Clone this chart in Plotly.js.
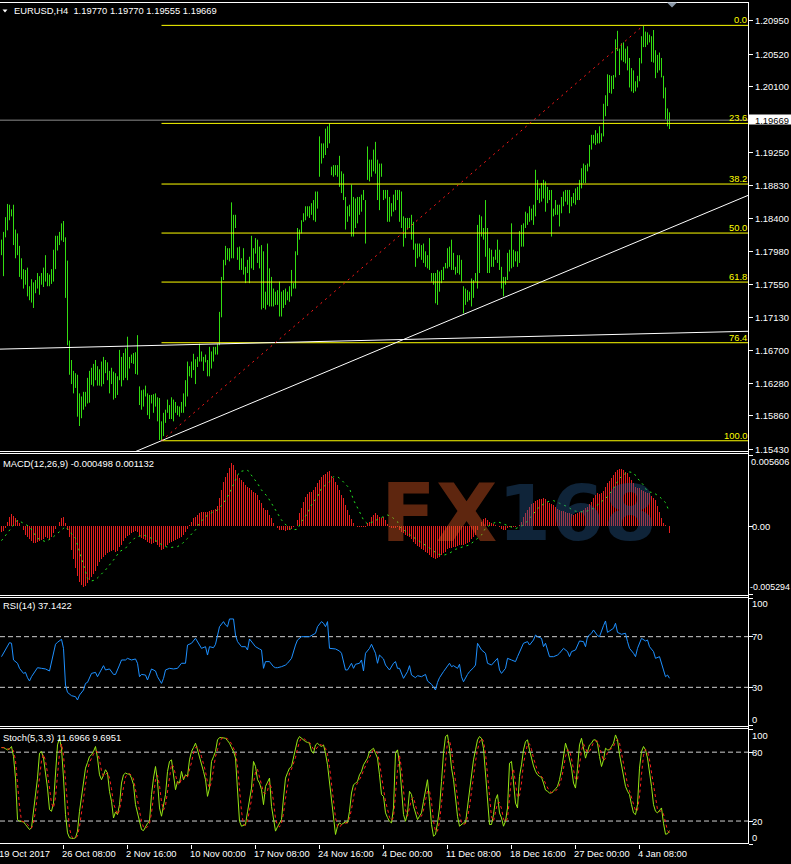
<!DOCTYPE html>
<html><head><meta charset="utf-8">
<script src="https://cdn.plot.ly/plotly-3.0.1.min.js"></script>
<style>html,body{margin:0;padding:0;background:#000;overflow:hidden}#chart{width:791px;height:864px}</style>
</head><body><div id="chart"></div>
<script>
// ---------------- DATA (EURUSD H4) ----------------
const highs = [
1.1813,1.1823,1.1842,1.1859,1.1858,1.1852,1.1858,1.1826,1.1821,1.1805,
1.1789,1.1775,1.1774,1.1777,1.1753,1.1762,1.1758,1.1761,1.1770,1.1766,
1.1770,1.1777,1.1793,1.1770,1.1768,1.1775,1.1800,1.1818,1.1818,1.1823,
1.1834,1.1837,1.1816,1.1786,1.1683,1.1658,1.1644,1.1641,1.1639,1.1615,
1.1611,1.1617,1.1617,1.1635,1.1644,1.1648,1.1653,1.1658,1.1650,1.1646,
1.1656,1.1662,1.1658,1.1655,1.1644,1.1648,1.1643,1.1641,1.1637,1.1671,
1.1662,1.1667,1.1673,1.1688,1.1662,1.1665,1.1667,1.1668,1.1690,1.1624,
1.1619,1.1620,1.1625,1.1615,1.1613,1.1613,1.1614,1.1615,1.1610,1.1609,
1.1579,1.1590,1.1594,1.1607,1.1600,1.1610,1.1607,1.1604,1.1599,1.1598,
1.1604,1.1615,1.1632,1.1656,1.1650,1.1656,1.1666,1.1659,1.1662,1.1679,
1.1669,1.1662,1.1665,1.1658,1.1675,1.1669,1.1675,1.1675,1.1679,1.1720,
1.1765,1.1787,1.1805,1.1802,1.1802,1.1861,1.1845,1.1845,1.1803,1.1804,
1.1789,1.1802,1.1778,1.1787,1.1791,1.1818,1.1802,1.1815,1.1813,1.1804,
1.1806,1.1798,1.1746,1.1808,1.1776,1.1765,1.1750,1.1746,1.1748,1.1759,
1.1746,1.1748,1.1750,1.1746,1.1753,1.1774,1.1757,1.1798,1.1828,1.1826,
1.1838,1.1847,1.1856,1.1856,1.1856,1.1860,1.1864,1.1875,1.1875,1.1946,
1.1937,1.1937,1.1956,1.1959,1.1963,1.1907,1.1909,1.1909,1.1909,1.1921,
1.1901,1.1898,1.1868,1.1856,1.1858,1.1884,1.1868,1.1866,1.1868,1.1868,
1.1871,1.1877,1.1864,1.1933,1.1916,1.1916,1.1929,1.1939,1.1916,1.1911,
1.1911,1.1877,1.1877,1.1877,1.1868,1.1860,1.1871,1.1877,1.1877,1.1877,
1.1875,1.1843,1.1841,1.1841,1.1841,1.1845,1.1836,1.1808,1.1808,1.1808,
1.1806,1.1808,1.1798,1.1793,1.1815,1.1770,1.1770,1.1770,1.1774,1.1772,
1.1774,1.1778,1.1783,1.1802,1.1804,1.1813,1.1796,1.1778,1.1793,1.1793,
1.1787,1.1753,1.1750,1.1748,1.1746,1.1763,1.1761,1.1770,1.1832,1.1845,
1.1843,1.1828,1.1864,1.1828,1.1802,1.1800,1.1791,1.1800,1.1813,1.1800,
1.1778,1.1765,1.1765,1.1796,1.1800,1.1834,1.1800,1.1798,1.1798,1.1824,
1.1832,1.1834,1.1849,1.1847,1.1856,1.1853,1.1858,1.1903,1.1890,1.1879,
1.1886,1.1890,1.1888,1.1881,1.1877,1.1877,1.1853,1.1864,1.1858,1.1858,
1.1868,1.1875,1.1877,1.1877,1.1877,1.1868,1.1873,1.1879,1.1881,1.1890,
1.1905,1.1911,1.1909,1.1911,1.1935,1.1948,1.1948,1.1954,1.1950,1.1959,
1.1950,1.1988,1.1999,1.2026,1.2025,1.2024,1.2025,1.2071,1.2082,1.2059,
1.2066,1.2067,1.2059,1.2062,1.2047,1.2034,1.2031,1.2017,1.2024,1.2047,
1.2075,1.2089,1.2081,1.2080,1.2077,1.2075,1.2083,1.2057,1.2051,1.2054,
1.2047,1.2024,1.2009,1.1982,1.1977];
const lows = [
1.1793,1.1766,1.1816,1.1825,1.1838,1.1843,1.1806,1.1789,1.1793,1.1765,
1.1762,1.1750,1.1755,1.1740,1.1735,1.1732,1.1725,1.1744,1.1750,1.1742,
1.1755,1.1752,1.1759,1.1753,1.1753,1.1756,1.1759,1.1775,1.1799,1.1806,
1.1812,1.1810,1.1738,1.1677,1.1639,1.1627,1.1615,1.1622,1.1585,1.1573,
1.1583,1.1594,1.1598,1.1602,1.1603,1.1626,1.1624,1.1632,1.1625,1.1625,
1.1624,1.1627,1.1641,1.1632,1.1615,1.1627,1.1607,1.1609,1.1613,1.1632,
1.1624,1.1632,1.1635,1.1632,1.1647,1.1654,1.1653,1.1640,1.1639,1.1600,
1.1594,1.1598,1.1611,1.1587,1.1582,1.1602,1.1590,1.1598,1.1579,1.1555,
1.1554,1.1560,1.1577,1.1590,1.1582,1.1582,1.1579,1.1590,1.1587,1.1585,
1.1590,1.1590,1.1598,1.1611,1.1637,1.1635,1.1645,1.1627,1.1649,1.1656,
1.1656,1.1644,1.1655,1.1637,1.1637,1.1647,1.1656,1.1665,1.1665,1.1677,
1.1713,1.1761,1.1780,1.1787,1.1785,1.1789,1.1789,1.1828,1.1787,1.1774,
1.1774,1.1768,1.1757,1.1770,1.1757,1.1776,1.1774,1.1795,1.1783,1.1776,
1.1723,1.1725,1.1723,1.1729,1.1727,1.1727,1.1727,1.1729,1.1729,1.1714,
1.1714,1.1725,1.1729,1.1735,1.1733,1.1740,1.1750,1.1750,1.1793,1.1813,
1.1821,1.1836,1.1838,1.1843,1.1841,1.1845,1.1838,1.1836,1.1853,1.1894,
1.1911,1.1918,1.1922,1.1931,1.1937,1.1896,1.1894,1.1896,1.1894,1.1881,
1.1873,1.1864,1.1826,1.1836,1.1843,1.1817,1.1817,1.1828,1.1834,1.1845,
1.1849,1.1864,1.1808,1.1890,1.1888,1.1894,1.1901,1.1898,1.1864,1.1851,
1.1894,1.1864,1.1866,1.1836,1.1836,1.1843,1.1849,1.1851,1.1864,1.1836,
1.1828,1.1804,1.1815,1.1826,1.1828,1.1813,1.1800,1.1778,1.1789,1.1791,
1.1787,1.1783,1.1778,1.1776,1.1774,1.1759,1.1755,1.1731,1.1729,1.1746,
1.1757,1.1761,1.1776,1.1776,1.1778,1.1774,1.1774,1.1768,1.1770,1.1768,
1.1759,1.1718,1.1729,1.1733,1.1735,1.1727,1.1738,1.1759,1.1750,1.1770,
1.1817,1.1813,1.1791,1.1770,1.1770,1.1778,1.1778,1.1787,1.1783,1.1774,
1.1750,1.1740,1.1755,1.1761,1.1772,1.1776,1.1778,1.1785,1.1778,1.1783,
1.1804,1.1804,1.1828,1.1832,1.1836,1.1838,1.1832,1.1843,1.1864,1.1860,
1.1862,1.1866,1.1849,1.1860,1.1864,1.1817,1.1843,1.1845,1.1845,1.1830,
1.1847,1.1856,1.1862,1.1858,1.1847,1.1856,1.1860,1.1858,1.1864,1.1864,
1.1879,1.1886,1.1886,1.1901,1.1907,1.1929,1.1937,1.1935,1.1937,1.1937,
1.1939,1.1946,1.1972,1.1985,1.2002,1.2001,1.2007,1.2022,1.2056,1.2025,
1.2044,1.2042,1.2040,1.2031,1.2009,1.2004,1.2002,1.2004,1.2009,1.2017,
1.2040,1.2061,1.2061,1.2064,1.2067,1.2042,1.2041,1.2021,1.2028,1.2031,
1.2022,1.1995,1.1968,1.1959,1.19555];
const lastPrice = 1.19669;
const priceTicks = [1.2095,1.2052,1.2010,1.1925,1.1883,1.1840,1.1798,1.1755,1.1713,1.1670,1.1628,1.1586,1.1543];
const priceTickText = ['1.20950','1.20520','1.20100','1.19250','1.18830','1.18400','1.17980','1.17550','1.17130','1.16700','1.16280','1.15860','1.15430'];
const fibLevels = [0, 23.6, 38.2, 50, 61.8, 76.4, 100];
const fibLabels = ['0.0','23.6','38.2','50.0','61.8','76.4','100.0'];
const fibHigh = 1.2089, fibLow = 1.1554, fibLowBar = 80, fibHighBar = 321;
const trendFlatBars = [-0.75, 373.25], trendFlatPrices = [1.1672, 1.1695];
const trendUpBars = [66, 373.25], trendUpPrices = [1.1539, 1.1870];

const macdHist = [
-0.00041,-0.00033,-0.00014,0.00038,0.00077,0.00098,0.00082,0.00064,0.00051,0.00030,
0.00004,-0.00027,-0.00067,-0.00085,-0.00101,-0.00111,-0.00127,-0.00132,-0.00122,-0.00111,
-0.00106,-0.00101,-0.00085,-0.00093,-0.00101,-0.00085,-0.00054,-0.00022,0.00004,0.00038,
0.00064,0.00072,0.00025,-0.00027,-0.00080,-0.00184,-0.00257,-0.00328,-0.00388,-0.00432,
-0.00459,-0.00472,-0.00466,-0.00446,-0.00419,-0.00393,-0.00372,-0.00346,-0.00310,-0.00276,
-0.00257,-0.00236,-0.00223,-0.00210,-0.00197,-0.00189,-0.00184,-0.00197,-0.00189,-0.00163,
-0.00145,-0.00111,-0.00093,-0.00074,-0.00067,-0.00054,-0.00041,-0.00033,-0.00041,-0.00074,
-0.00093,-0.00095,-0.00106,-0.00119,-0.00132,-0.00140,-0.00132,-0.00122,-0.00142,-0.00163,
-0.00184,-0.00174,-0.00153,-0.00145,-0.00132,-0.00122,-0.00111,-0.00106,-0.00101,-0.00093,
-0.00080,-0.00069,-0.00043,-0.00017,0.00009,0.00038,0.00064,0.00077,0.00090,0.00103,
0.00114,0.00116,0.00114,0.00114,0.00122,0.00129,0.00129,0.00135,0.00161,0.00221,
0.00286,0.00349,0.00391,0.00417,0.00456,0.00495,0.00482,0.00443,0.00404,0.00378,
0.00365,0.00349,0.00325,0.00312,0.00299,0.00286,0.00273,0.00260,0.00244,0.00208,
0.00182,0.00142,0.00129,0.00129,0.00090,0.00064,0.00025,0.00004,-0.00014,-0.00027,
-0.00027,-0.00027,-0.00033,-0.00027,-0.00027,-0.00022,-0.00001,0.00004,0.00051,0.00103,
0.00142,0.00195,0.00229,0.00255,0.00270,0.00273,0.00286,0.00312,0.00338,0.00365,
0.00391,0.00404,0.00412,0.00430,0.00438,0.00396,0.00378,0.00351,0.00325,0.00286,
0.00247,0.00221,0.00169,0.00129,0.00090,0.00056,0.00025,0.00004,-0.00001,-0.00001,
-0.00007,-0.00007,-0.00001,0.00025,0.00038,0.00077,0.00090,0.00103,0.00090,0.00077,
0.00064,0.00077,0.00051,0.00020,-0.00001,-0.00014,-0.00014,-0.00014,-0.00007,-0.00027,
-0.00041,-0.00054,-0.00067,-0.00074,-0.00085,-0.00101,-0.00119,-0.00137,-0.00153,-0.00163,
-0.00174,-0.00184,-0.00197,-0.00210,-0.00223,-0.00236,-0.00247,-0.00252,-0.00250,-0.00236,
-0.00221,-0.00210,-0.00197,-0.00179,-0.00171,-0.00166,-0.00163,-0.00158,-0.00153,-0.00148,
-0.00142,-0.00148,-0.00137,-0.00127,-0.00119,-0.00101,-0.00085,-0.00067,-0.00027,0.00004,
0.00038,0.00056,0.00067,0.00051,0.00038,0.00025,0.00020,0.00012,0.00004,-0.00001,
-0.00017,-0.00027,-0.00027,-0.00014,-0.00007,-0.00001,-0.00004,-0.00001,0.00004,0.00012,
0.00038,0.00077,0.00103,0.00129,0.00155,0.00176,0.00187,0.00203,0.00208,0.00213,
0.00216,0.00221,0.00213,0.00195,0.00182,0.00176,0.00166,0.00150,0.00135,0.00129,
0.00124,0.00119,0.00116,0.00108,0.00103,0.00098,0.00090,0.00095,0.00103,0.00116,
0.00122,0.00129,0.00142,0.00155,0.00174,0.00195,0.00221,0.00244,0.00260,0.00255,
0.00265,0.00281,0.00307,0.00338,0.00354,0.00378,0.00404,0.00427,0.00443,0.00448,
0.00448,0.00443,0.00430,0.00417,0.00391,0.00365,0.00338,0.00312,0.00299,0.00299,
0.00286,0.00276,0.00273,0.00260,0.00260,0.00239,0.00221,0.00208,0.00161,0.00116,
0.00064,0.00025,0.00012,0.00004,-0.000498];
const macdSignalReadings = [
[0,-0.00111],[8,0.00051],[14,-0.00001],[18,-0.00093],[22,-0.00119],[25,-0.00093],[29,-0.00041],[32,-0.00001],
[37,-0.00093],[39,-0.00197],[42,-0.00341],[43,-0.00406],[45,-0.00427],[47,-0.00419],[49,-0.00388],[52,-0.00341],
[56,-0.00263],[59,-0.00197],[62,-0.00171],[64,-0.00132],[67,-0.00085],[71,-0.00067],[74,-0.00085],[78,-0.00119],
[81,-0.00153],[84,-0.00166],[88,-0.00158],[90,-0.00140],[93,-0.00093],[97,-0.00027],[99,0.00025],[102,0.00077],
[105,0.00108],[108,0.00129],[111,0.00182],[114,0.00260],[117,0.00365],[119,0.00430],[123,0.00443],[125,0.00404],
[128,0.00338],[130,0.00286],[133,0.00234],[135,0.00182],[138,0.00103],[140,0.00051],[143,-0.00001],[145,-0.00027],
[148,-0.00022],[150,0.00038],[153,0.00103],[155,0.00169],[158,0.00234],[160,0.00299],[164,0.00351],[166,0.00391],
[168,0.00391],[170,0.00365],[174,0.00299],[176,0.00208],[179,0.00116],[181,0.00051],[183,0.00020],[186,0.00038],
[189,0.00064],[193,0.00090],[195,0.00077],[198,0.00038],[199,-0.00001],[202,-0.00041],[205,-0.00074],[208,-0.00106],
[212,-0.00145],[215,-0.00179],[218,-0.00216],[221,-0.00226],[224,-0.00210],[227,-0.00179],[231,-0.00158],[234,-0.00145],
[237,-0.00106],[240,-0.00067],[242,-0.00014],[245,0.00020],[248,0.00038],[251,0.00020],[254,-0.00001],[257,-0.00017],
[260,0.00004],[262,0.00025],[264,0.00064],[267,0.00116],[269,0.00155],[273,0.00195],[276,0.00203],[279,0.00182],
[283,0.00155],[286,0.00124],[289,0.00114],[293,0.00122],[296,0.00142],[299,0.00182],[303,0.00234],[306,0.00299],
[309,0.00378],[313,0.00430],[316,0.00422],[318,0.00378],[321,0.00325],[323,0.00273],[326,0.00265],[329,0.00234],
[332,0.00187],[334,0.001132]];
const macdMax = 0.005606, macdMin = -0.005294;

const rsiReadings = [
[0,54.2],[1,56.9],[3,62.1],[4,65.3],[5,64.8],[6,51.6],[8,49.0],[9,45.0],[11,41.0],[12,41.8],
[13,37.6],[14,35.0],[15,38.4],[17,43.7],[18,45.5],[20,45.0],[22,44.5],[24,42.9],[25,50.3],[27,64.0],
[28,65.6],[30,67.9],[31,60.8],[32,31.8],[33,26.0],[35,23.4],[37,22.6],[38,20.0],[39,23.9],[41,27.9],
[42,33.1],[43,33.9],[45,41.0],[47,41.8],[48,38.4],[50,45.0],[51,47.1],[52,43.7],[54,44.5],[56,40.2],
[57,40.2],[59,47.6],[60,51.6],[62,51.6],[63,52.9],[65,51.6],[67,52.4],[68,49.0],[69,38.4],[70,40.2],
[72,39.7],[73,35.8],[75,44.5],[77,42.9],[78,38.4],[80,33.1],[81,37.1],[82,43.7],[84,45.0],[86,44.5],
[88,45.0],[90,49.0],[92,49.0],[93,63.4],[95,64.8],[97,68.7],[98,66.1],[99,62.9],[100,60.8],[102,62.1],
[103,55.5],[104,62.1],[106,61.3],[107,64.0],[108,70.0],[109,77.9],[111,81.9],[112,79.3],[113,77.9],[114,84.0],
[116,84.0],[117,71.3],[118,66.1],[120,62.1],[122,62.1],[123,59.5],[124,68.2],[126,64.0],[127,62.1],[129,60.3],
[130,59.5],[131,45.0],[132,50.3],[134,50.3],[136,46.3],[137,45.5],[138,45.5],[140,46.3],[142,47.6],[143,49.0],
[145,52.9],[147,63.4],[148,67.4],[150,70.0],[152,70.0],[154,70.0],[157,72.7],[158,77.9],[160,81.9],[161,80.6],
[162,77.9],[163,81.9],[164,60.8],[166,60.8],[167,60.3],[169,58.7],[170,56.9],[172,43.7],[173,43.7],[175,49.0],
[176,45.0],[177,48.2],[179,49.0],[180,51.6],[181,42.9],[182,56.9],[184,60.8],[185,64.0],[187,56.9],[188,49.0],
[189,55.5],[191,52.4],[192,47.6],[194,43.7],[196,49.0],[197,50.3],[198,45.0],[199,45.0],[201,37.1],[203,42.4],
[204,47.1],[205,39.7],[207,37.6],[208,39.2],[210,38.4],[212,40.2],[213,35.0],[215,32.4],[217,27.9],[218,33.9],
[219,37.6],[221,42.4],[223,46.3],[224,49.0],[225,46.3],[226,47.1],[228,45.0],[229,48.2],[230,38.4],[231,34.4],
[233,40.2],[234,42.4],[236,45.5],[237,47.6],[238,64.8],[240,59.5],[242,56.9],[243,49.0],[245,47.6],[247,51.6],
[248,52.9],[249,43.7],[250,41.0],[252,45.0],[253,52.9],[255,51.6],[257,50.3],[258,54.2],[260,62.1],[261,64.8],
[263,66.1],[264,63.4],[266,67.4],[267,71.3],[268,70.0],[270,68.7],[271,62.1],[272,64.8],[274,54.2],[276,54.2],
[278,55.5],[279,56.9],[281,60.8],[283,58.2],[284,54.2],[285,58.2],[287,59.5],[288,63.4],[289,66.6],[291,66.1],
[292,62.1],[293,70.0],[295,72.7],[296,75.3],[298,70.8],[299,70.0],[300,75.3],[301,78.7],[302,82.4],[303,73.4],
[304,74.5],[306,76.6],[307,80.6],[308,73.4],[310,71.9],[312,72.7],[313,66.1],[314,60.8],[316,56.9],[317,54.2],
[318,60.8],[320,68.7],[322,66.6],[323,67.4],[324,62.1],[326,58.2],[327,52.9],[329,54.2],[331,43.7],[332,38.4],
[333,39.7],[334,37.1422]];
const rsiLevels = [30, 70];

const stochMain = [
84,84,83,82,82.9,84.9,76.2,57.4,21.3,19.8, 19.5,19.3,17,15,12.6,14.1,28.5,43,57.4,79.1,
80.6,74.8,62,48.7,30,28.5,35.7,57.4,86.3,92.1, 83.4,57.4,25.6,9.7,5.4,5,4.8,5.4,11.2,28.5,
41,54.5,66.1,71,76.2,77.7,80.6,84.9,74.8,60.3, 56,60,64.7,61.8,45.9,37.2,22.7,27.9,25.6,34.3,
53.1,60.3,61.8,61,60.9,57.4,51.7,34.3,27,19.8, 12.6,11.7,15.5,18,19.8,43,57.4,67.5,54.5,31.4,
24.2,33,43,63.2,71.9,73.3,57.4,47.3,54.5,53.1, 63.2,56,60.3,58.9,73.3,80.6,84,87.8,82,76.2,
70.4,63.2,56,41.5,48.7,71.9,76,80.6,90.7,92.7, 92.7,92.7,92.1,90,87.8,84,80.6,74.8,50.2,19.8,
15.5,16,17,28,38.6,48.7,71.9,67.5,56,53.1, 47.3,34.3,50.2,54,57.4,32.8,22.7,11.2,15,18.4,
21.3,40.1,57.4,62,66.1,67.5,74.8,83.4,90.7,93.6, 92.1,90.7,89.2,88.5,87.8,80.6,79.1,86.3,87.8,86,
84.9,86.3,79.1,69,54,38.6,22,8.3,15.5,18.4, 17,18,19.3,18.4,28.5,44.4,51.6,53,54.5,60.3,
63.2,69,72,74.8,80.6,82,83.4,79,74.8,60.3, 43,41.5,27.1,23,19.8,18.4,31.4,79.1,82,70.4,
45,25.6,19.8,27.1,45.9,43,32.8,27.1,21.3,24.2, 27.1,37.2,45.9,56,37.2,17,6.8,8.3,18.4,31.4,
54.5,79.1,93.6,95,83.4,66.1,56,40.1,24.2,15.5, 17,18.4,18.4,32.8,45.9,60.3,73.3,82,90.7,93.6,
92.1,83.4,61.8,37.2,17,17,25.6,38.6,43,27.1, 22.7,15.5,19.8,31.4,70.4,71.9,54.5,35.7,31.4,58.9,
69,82,89.2,90.7,82,74.8,68,63.2,60.3,58.9, 58,53.1,47,45.9,44.4,44.4,45.9,48,50.2,56,
64.7,76.2,87.8,82,74.8,66.1,53.1,48.7,66.1,86.3, 92.1,83.4,74.8,80.6,86.3,87.8,90.7,90.7,87.8,76.2,
67.5,73.3,83.4,82,82,84.9,87.8,95,90.7,78, 69,60.3,50.2,46,43,34.3,27.1,25.6,34.3,66.1,
80.6,84.9,82,74.8,63.2,50.2,34.3,28.5,27.1,29, 31.4,18,8.5,8.9,11.6966];
const stochSignal = [
84,84,83.7,83,82.6,83.3,81.3,72.8,51.6,32.8, 20.2,19.5,18.6,17.1,14.9,13.9,18.4,28.5,43,59.8,
72.4,78.2,72.5,61.8,46.9,35.7,31.4,40.5,59.8,78.6, 87.3,77.6,55.5,30.9,13.6,6.7,5.1,5.1,7.1,15,
26.9,41.3,53.9,63.9,71.1,75,78.2,81.1,80.1,73.3, 63.7,58.8,60.2,62.2,57.5,48.3,35.3,29.3,25.4,29.3,
37.7,49.2,58.4,61,61.2,59.8,56.7,47.8,37.7,27, 19.8,14.7,13.3,15.1,17.8,26.9,40.1,56,59.8,51.1,
36.7,29.5,33.4,46.4,59.4,69.5,67.5,59.3,53.1,51.6, 56.9,57.4,59.8,58.4,64.2,70.9,79.3,84.1,84.6,82,
76.2,69.9,63.2,53.6,48.7,54,65.5,76.2,82.4,88, 92,92.7,92.5,91.6,90,87.3,84.1,79.8,68.5,48.3,
28.5,17.1,16.2,20.3,27.9,38.4,53.1,62.7,65.1,58.9, 52.1,44.9,43.9,46.2,53.9,48.1,37.6,22.2,16.3,14.9,
18.2,26.6,39.6,53.2,61.8,65.2,69.5,75.2,83,89.2, 92.1,92.1,90.7,89.5,88.5,85.6,82.5,82,84.4,86.7,
86.2,85.7,83.4,78.1,67.4,53.9,38.2,23,15.3,14.1, 17,17.8,18.1,18.6,22.1,30.4,41.5,49.7,53,55.9,
59.3,64.2,68.1,71.9,75.8,79.1,82,81.5,79.1,71.4, 59.4,48.3,37.2,30.5,23.3,20.4,23.2,43,64.2,77.2,
65.8,47,30.1,24.2,30.9,38.7,40.6,34.3,27.1,24.2, 24.2,29.5,36.7,46.4,46.4,36.7,20.3,10.7,11.2,19.4,
34.8,55,75.7,89.2,90.7,81.5,68.5,54.1,40.1,26.6, 18.9,17,17.9,23.2,32.4,46.3,59.8,71.9,82,88.8,
92.1,89.7,79.1,60.8,38.7,23.7,19.9,27.1,35.7,36.2, 30.9,21.8,19.3,22.2,40.5,57.9,65.6,54,40.5,42,
53.1,70,80.1,87.3,87.3,82.5,74.9,68.7,63.8,60.8, 59.1,56.7,52.7,48.7,45.8,44.9,44.9,46.1,48,51.4,
57,65.6,76.2,82,81.5,74.3,64.7,56,56,67, 81.5,87.3,83.4,79.6,80.6,84.9,88.3,89.7,89.7,84.9,
77.2,72.3,74.7,79.6,82.5,83,84.9,89.2,91.2,87.9, 79.2,69.1,59.8,52.2,46.4,41.1,34.8,29,29,42,
60.3,77.2,82.5,80.6,73.3,62.7,49.2,37.7,30,28.2, 29.2,26.1,19.3,11.8,9.6951];
const stochLevels = [20, 80];

const timeTickBars = [-0.75, 31, 63, 95, 127, 159, 191, 223, 255, 287, 319];
const timeTickText = ['19 Oct 2017','26 Oct 08:00','2 Nov 16:00','10 Nov 00:00','17 Nov 08:00','24 Nov 16:00','4 Dec 00:00','11 Dec 08:00','18 Dec 16:00','27 Dec 00:00','4 Jan 08:00'];

// ---------------- LAYOUT HELPERS ----------------
const W = 748, H = 844;
const px = x => x / W;
const py = y => (H - y) / H;
const XR = [-0.75, 373.25];
const FONT = "'Liberation Sans', Arial, sans-serif";
const FS = 9.4;
const GREEN = '#33dd11';

const idx = highs.map((_, i) => i);
const traces = [];

// price bars
const bx = [], by = [];
highs.forEach((h, i) => { bx.push(i, i, null); by.push(lows[i], h, null); });
traces.push({x: bx, y: by, type: 'scatter', mode: 'lines', line: {color: GREEN, width: 1}, xaxis: 'x', yaxis: 'y', hoverinfo: 'skip'});

// fibonacci levels
const fx = [], fy = [];
fibLevels.forEach(l => { const p = fibHigh - l / 100 * (fibHigh - fibLow); fx.push(fibLowBar, XR[1], null); fy.push(p, p, null); });
traces.push({x: fx, y: fy, type: 'scatter', mode: 'lines', line: {color: '#ffff00', width: 1}, xaxis: 'x', yaxis: 'y', hoverinfo: 'skip'});
// trendlines
traces.push({x: trendFlatBars, y: trendFlatPrices, type: 'scatter', mode: 'lines', line: {color: '#ffffff', width: 1}, xaxis: 'x', yaxis: 'y'});
traces.push({x: trendUpBars, y: trendUpPrices, type: 'scatter', mode: 'lines', line: {color: '#ffffff', width: 1}, xaxis: 'x', yaxis: 'y'});
// fib base line (red dotted)
traces.push({x: [fibLowBar, fibHighBar], y: [fibLow, fibHigh], type: 'scatter', mode: 'lines', line: {color: '#ff1a1a', width: 1, dash: '2px,4px'}, xaxis: 'x', yaxis: 'y'});
// bid line
traces.push({x: XR, y: [lastPrice, lastPrice], type: 'scatter', mode: 'lines', line: {color: '#8c8c8c', width: 1}, xaxis: 'x', yaxis: 'y'});

// MACD
traces.push({x: idx, y: macdHist, type: 'bar', width: 0.5, marker: {color: '#e41e1e', line: {width: 0}}, xaxis: 'x', yaxis: 'y2'});
traces.push({x: macdSignalReadings.map(d => d[0]), y: macdSignalReadings.map(d => d[1]), type: 'scatter', mode: 'lines', line: {color: '#22e622', width: 1, dash: '2px,4px'}, xaxis: 'x', yaxis: 'y2'});

// RSI
rsiLevels.forEach(l => traces.push({x: XR, y: [l, l], type: 'scatter', mode: 'lines', line: {color: '#cfcfcf', width: 1, dash: '5px,3px'}, xaxis: 'x', yaxis: 'y3'}));
traces.push({x: rsiReadings.map(d => d[0]), y: rsiReadings.map(d => d[1]), type: 'scatter', mode: 'lines', line: {color: '#1e90ff', width: 1}, xaxis: 'x', yaxis: 'y3'});

// Stochastic
stochLevels.forEach(l => traces.push({x: XR, y: [l, l], type: 'scatter', mode: 'lines', line: {color: '#cfcfcf', width: 1, dash: '5px,3px'}, xaxis: 'x', yaxis: 'y4'}));
traces.push({x: idx, y: stochMain, type: 'scatter', mode: 'lines', line: {color: '#96e614', width: 1}, xaxis: 'x', yaxis: 'y4'});
traces.push({x: idx, y: stochSignal, type: 'scatter', mode: 'lines', line: {color: '#ff2020', width: 1, dash: '3px,3px'}, xaxis: 'x', yaxis: 'y4'});

// ---------------- AXES ----------------
const yBase = {side: 'right', anchor: 'x', showgrid: false, zeroline: false, showline: false, ticks: 'outside', ticklen: 4, tickwidth: 1, tickcolor: '#ffffff', showticklabels: false, fixedrange: true};
const layout = {
  width: 791, height: 864,
  margin: {l: 0, r: 43, t: 0, b: 20, pad: 0},
  paper_bgcolor: '#000000', plot_bgcolor: '#000000',
  showlegend: false, hovermode: false, bargap: 0,
  xaxis: {domain: [0, 1], range: XR, anchor: 'y4', showgrid: false, zeroline: false, showline: false,
          ticks: 'outside', ticklen: 4, tickcolor: '#ffffff', tickvals: timeTickBars.slice(1), showticklabels: false, fixedrange: true},
  yaxis: Object.assign({}, yBase, {domain: [py(451), py(3)], range: [1.15408, 1.21178], tickvals: priceTicks}),
  yaxis2: Object.assign({}, yBase, {domain: [py(594), py(455)], range: [macdMin, macdMax], tickvals: [macdMin, 0, macdMax]}),
  yaxis3: Object.assign({}, yBase, {domain: [py(725.3), py(598.7)], range: [0, 100], tickvals: [0, 30, 70, 100]}),
  yaxis4: Object.assign({}, yBase, {domain: [0, py(729.2)], range: [0, 100], tickvals: [0, 20, 80, 100]}),
  shapes: [], annotations: []
};

// frame lines
const hl = (y, x1) => ({type: 'line', xref: 'paper', yref: 'paper', x0: 0, x1: px(x1 || 748.5), y0: py(y), y1: py(y), line: {color: '#ffffff', width: 1}, layer: 'above'});
[2.5, 451.5, 453.5, 595.5, 597.5, 726.5, 728.5, 843.5].forEach(y => layout.shapes.push(hl(y)));
layout.shapes.push({type: 'line', xref: 'paper', yref: 'paper', x0: px(748.5), x1: px(748.5), y0: py(2), y1: py(844), line: {color: '#ffffff', width: 1}, layer: 'above'});
// current price box
layout.shapes.push({type: 'rect', xref: 'paper', yref: 'paper', x0: px(748.5), x1: px(792), y0: py(124.5), y1: py(114.5), fillcolor: '#ffffff', line: {width: 0}, layer: 'above'});
// chart shift marker and header triangle
layout.shapes.push({type: 'path', xref: 'paper', yref: 'paper', path: `M ${px(667)} ${py(2.5)} L ${px(677)} ${py(2.5)} L ${px(672)} ${py(7.5)} Z`, fillcolor: '#8a98a8', line: {width: 0}, layer: 'above'});
layout.shapes.push({type: 'path', xref: 'paper', yref: 'paper', path: `M ${px(2.5)} ${py(9.5)} L ${px(7.5)} ${py(9.5)} L ${px(5)} ${py(12.5)} Z`, fillcolor: '#ffffff', line: {width: 0}, layer: 'above'});

const ann = (o) => layout.annotations.push(Object.assign({showarrow: false, font: {family: FONT, size: FS, color: '#ffffff'}, borderpad: 0, borderwidth: 0}, o));

// titles
ann({text: 'EURUSD,H4  1.19770 1.19770 1.19555 1.19669', xref: 'paper', yref: 'paper', x: px(13.5), y: py(10.8), xanchor: 'left', yanchor: 'middle'});
ann({text: 'MACD(12,26,9) -0.000498 0.001132', xref: 'paper', yref: 'paper', x: px(2.5), y: py(463.3), xanchor: 'left', yanchor: 'middle'});
ann({text: 'RSI(14) 37.1422', xref: 'paper', yref: 'paper', x: px(2.5), y: py(605.7), xanchor: 'left', yanchor: 'middle'});
ann({text: 'Stoch(5,3,3) 11.6966 9.6951', xref: 'paper', yref: 'paper', x: px(2.5), y: py(737.7), xanchor: 'left', yanchor: 'middle'});

// price axis labels
priceTicks.forEach((v, k) => ann({text: priceTickText[k], xref: 'paper', yref: 'y', x: px(754.5), y: v, xanchor: 'left', yanchor: 'middle'}));
ann({text: lastPrice.toFixed(5), xref: 'paper', yref: 'y', x: px(754.5), y: lastPrice, xanchor: 'left', yanchor: 'middle', font: {family: FONT, size: FS, color: '#000000'}});
// fib labels
fibLevels.forEach((l, k) => ann({text: fibLabels[k], xref: 'paper', yref: 'y', x: px(747), y: fibHigh - l / 100 * (fibHigh - fibLow), xanchor: 'right', yanchor: 'middle', yshift: 5.5, font: {family: FONT, size: FS, color: '#ffff00'}}));

// indicator axis labels
const subLab = (text, yref, v, shift, x, size) => ann({text, xref: 'paper', yref, x: px(x || 751.5), y: v, xanchor: 'left', yanchor: 'middle', yshift: shift, font: {family: FONT, size: size || FS, color: '#ffffff'}});
subLab(macdMax.toFixed(6), 'y2', macdMax, -6.7, 751, 9.2);
subLab('0.00', 'y2', 0, 0);
subLab(macdMin.toFixed(6), 'y2', macdMin, 6.7, 749.5, 8.9);
subLab('100', 'y3', 100, -4.6); subLab('70', 'y3', 70, 0); subLab('30', 'y3', 30, 0); subLab('0', 'y3', 0, 6);
subLab('100', 'y4', 100, -6.5); subLab('80', 'y4', 80, 0); subLab('20', 'y4', 20, -0.7); subLab('0', 'y4', 0, 6.3);

// time labels
timeTickBars.forEach((b, k) => ann({text: timeTickText[k], xref: 'x', yref: 'paper', x: b, y: py(853.3), xanchor: 'left', yanchor: 'middle', xshift: -1.5}));

// watermark
ann({text: '<b>FX</b>', xref: 'paper', yref: 'paper', x: px(381), y: py(513), xanchor: 'left', yanchor: 'middle', font: {family: "'DejaVu Sans', sans-serif", size: 80, color: 'rgba(225,90,35,0.42)'}});
ann({text: '<b>168</b>', xref: 'paper', yref: 'paper', x: px(498), y: py(513), xanchor: 'left', yanchor: 'middle', font: {family: "'DejaVu Sans', sans-serif", size: 76, color: 'rgba(40,95,150,0.38)'}});

Plotly.newPlot('chart', traces, layout, {staticPlot: true, displayModeBar: false});
</script>
</body></html>
